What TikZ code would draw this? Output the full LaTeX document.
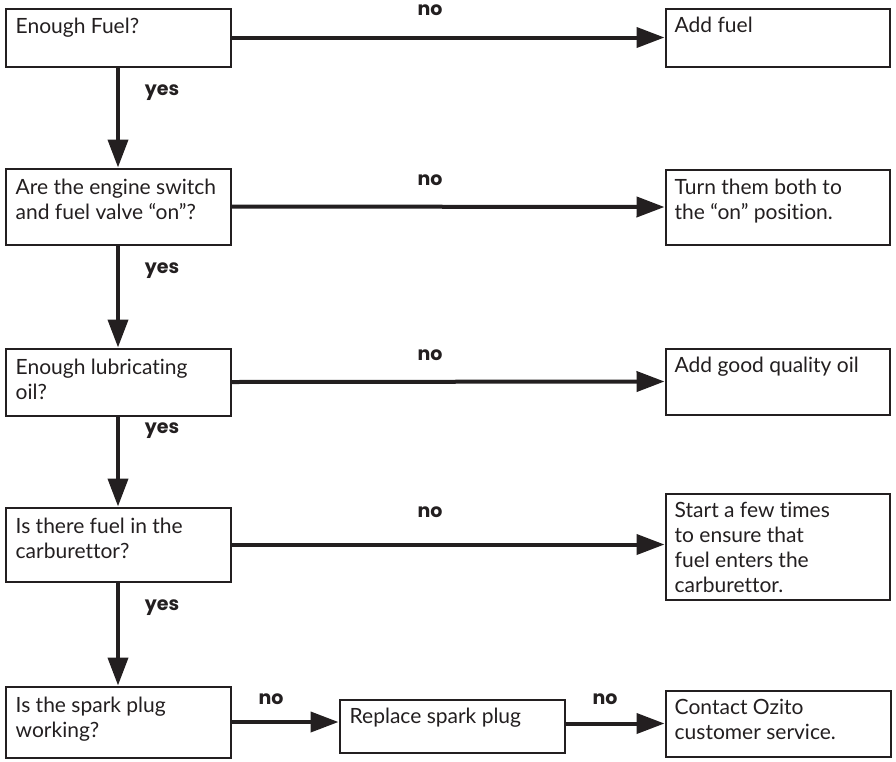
\documentclass[tikz,border=0pt]{standalone}
\usepackage{fontspec}
\setmainfont{Lato}[Ligatures=NoCommon]
\newfontfamily\lblfont{Poppins}
\usetikzlibrary{arrows.meta,calc}
\definecolor{ink}{HTML}{231F20}
\tikzset{
  box/.style={draw=ink, line width=2pt, fill=white, rectangle, inner sep=0pt},
  txt/.style={anchor=north west, inner sep=0pt, align=left, text=ink,
    font=\fontsize{21}{25}\selectfont},
  flow/.style={draw=ink, line width=4pt, -{Triangle[length=28pt,width=20pt]}},
  lbl/.style={anchor=base, inner sep=0pt, text=ink,
    font=\lblfont\bfseries\fontsize{19}{20}\selectfont},
}
\begin{document}
\begin{tikzpicture}[x=1pt,y=-1pt]
\useasboundingbox (0,0) rectangle (896,761);
% left column
\node[box, minimum width=225pt, minimum height=58pt] (b1) at (118,37.5) {};
\node[box, minimum width=225pt, minimum height=76pt] (b2) at (118,206.5) {};
\node[box, minimum width=225pt, minimum height=67pt] (b3) at (118,382) {};
\node[box, minimum width=225pt, minimum height=74pt] (b4) at (118,544.5) {};
\node[box, minimum width=225pt, minimum height=71pt] (b5) at (118,722) {};
% right column
\node[box, minimum width=224pt, minimum height=58pt] (r1) at (777.5,37.5) {};
\node[box, minimum width=224pt, minimum height=75pt] (r2) at (777.5,207) {};
\node[box, minimum width=224pt, minimum height=66pt] (r3) at (777.5,381.5) {};
\node[box, minimum width=224pt, minimum height=106pt] (r4) at (777.5,546.5) {};
\node[box, minimum width=225pt, minimum height=66pt] (r5) at (778,723.5) {};
\node[box, minimum width=225pt, minimum height=53pt] (rp) at (452,726) {};
% texts
\node[txt] (t1) at ($(b1.north west)+(11,10)$) {Enough Fuel?};
\node[txt] (t2) at ($(b2.north west)+(11,11)$) {Are the engine switch\\and fuel valve “on”?};
\node[txt] (t3) at ($(b3.north west)+(11,11)$) {Enough lubricating\\oil?};
\node[txt] (t4) at ($(b4.north west)+(11,11)$) {Is there fuel in the\\carburettor?};
\node[txt] (t5) at ($(b5.north west)+(11,11)$) {Is the spark plug\\working?};
\node[txt] (u1) at ($(r1.north west)+(10,9)$) {Add fuel};
\node[txt] (u2) at ($(r2.north west)+(10,10)$) {Turn them both to\\the “on” position.};
\node[txt] (u3) at ($(r3.north west)+(10,9)$) {Add good quality oil};
\node[txt] (u4) at ($(r4.north west)+(10,9)$) {Start a few times\\to ensure that\\fuel enters the\\carburettor.};
\node[txt] (u5) at ($(r5.north west)+(10,9)$) {Contact Ozito\\customer service.};
\node[txt] (up) at ($(rp.north west)+(11,9)$) {Replace spark plug};
% connectors
\draw[flow] (b1.south) -- (b2.north);
\draw[flow] (b2.south) -- (b3.north);
\draw[flow] (b3.south) -- (b4.north);
\draw[flow] (b4.south) -- (b5.north);
\draw[flow] (b1.east) -- (r1.west);
\draw[flow] (b2.east) -- (r2.west);
\draw[flow] (b3.east) -- (r3.west);
\draw[flow] (b4.east) -- (b4.east -| r4.west);
\draw[flow] (b5.east) -- (b5.east -| rp.west);
\draw[flow] (rp.east |- r5.west) -- (r5.west);
% labels
\node[lbl] (n1) at (430,15) {no};
\node[lbl] (n2) at (430,185) {no};
\node[lbl] (n3) at (430,360) {no};
\node[lbl] (n4) at (430,517) {no};
\node[lbl] (n5) at (271,704) {no};
\node[lbl] (n6) at (605,704) {no};
\node[lbl] (y1) at (162,95) {yes};
\node[lbl] (y2) at (162,273) {yes};
\node[lbl] (y3) at (162,433) {yes};
\node[lbl] (y4) at (162,610) {yes};
\end{tikzpicture}
\end{document}
